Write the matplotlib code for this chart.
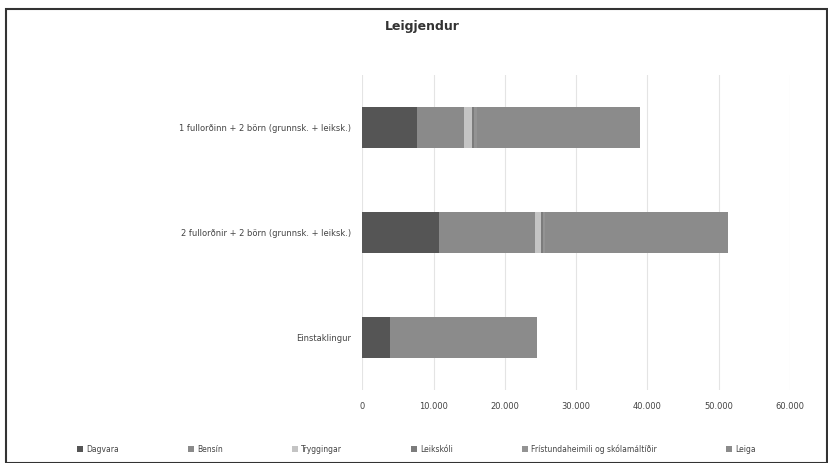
import matplotlib
matplotlib.use("Agg")
import matplotlib.pyplot as plt
from matplotlib.ticker import FuncFormatter
from matplotlib.patches import Rectangle

categories = ["Einstaklingur",
              "2 fullorðnir + 2 börn (grunnsk. + leiksk.)",
              "1 fullorðinn + 2 börn (grunnsk. + leiksk.)"]
series = ["Dagvara", "Bensín", "Tryggingar", "Leikskóli",
          "Frístundaheimili og skólamáltíðir", "Leiga"]
values = {
    "Dagvara":    [3900, 10700, 7700],
    "Bensín":     [0, 13500, 6500],
    "Tryggingar": [0, 800, 1200],
    "Leikskóli":  [0, 300, 300],
    "Frístundaheimili og skólamáltíðir": [0, 400, 400],
    "Leiga":      [20600, 25600, 22900],
}
colors = ["#555555", "#8a8a8a", "#c4c4c4", "#7c7c7c", "#939393", "#8b8b8b"]

fig = plt.figure(figsize=(8.29, 4.63), dpi=100)
ax = fig.add_axes([0.437, 0.158, 0.516, 0.68])

y = range(len(categories))
left = [0] * len(categories)
for name, c in zip(series, colors):
    ax.barh(y, values[name], left=left, height=0.39, color=c, label=name)
    left = [a + b for a, b in zip(left, values[name])]

ax.set_xlim(0, 60000)
ax.set_ylim(-0.5, 2.5)
ax.set_xticks(range(0, 60001, 10000))
ax.xaxis.set_major_formatter(FuncFormatter(lambda v, p: f"{int(v):,}".replace(",", ".")))
ax.set_yticks(list(y))
ax.set_yticklabels(categories)
ax.tick_params(length=0, labelsize=6, colors="#444444", pad=8)
ax.tick_params(axis="x", pad=9)
ax.grid(axis="x", color="#e4e4e4", linewidth=0.8)
ax.set_axisbelow(True)
for s in ax.spines.values():
    s.set_visible(False)

fig.suptitle("Leigjendur", x=0.51, y=0.957, fontsize=9, fontweight="bold", color="#333333")

fig.legend(loc="lower left", bbox_to_anchor=(0.085, 0.005, 0.835, 0.05), mode="expand",
           ncol=6, frameon=False, fontsize=5.5, handlelength=0.8, handleheight=0.8,
           handletextpad=0.4, labelcolor="#444444")

fig.patches.append(Rectangle((0.007, 0.0), 0.99, 0.98, transform=fig.transFigure,
                             fill=False, edgecolor="#333333", linewidth=1.5))

fig.savefig("out.png", dpi=100)
